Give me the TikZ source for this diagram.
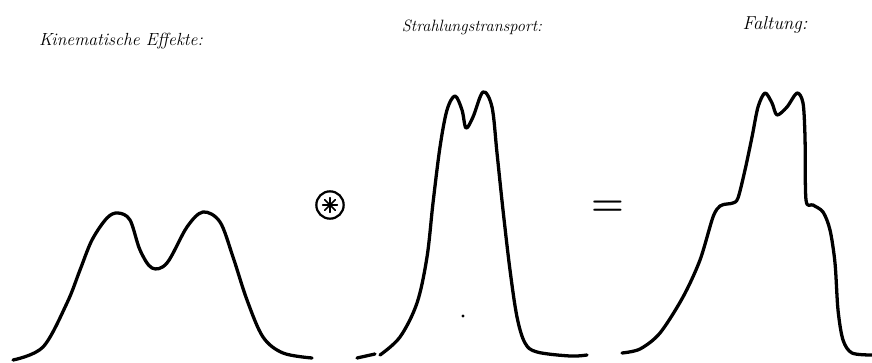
\documentclass[tikz,border=0pt]{standalone}
\usepackage{amsmath, amssymb}
\usepackage{tikz}
\usetikzlibrary{positioning, calc}

\begin{document}
\begin{tikzpicture}[x=0.03cm, y=-0.03cm,
                    every node/.style={font=\itshape},
                    profile/.style={line width=2.8pt, line join=round, line cap=round},
                    heading/.style={inner sep=0pt},
                    spoke/.style={line width=1.4pt, line cap=round}]
  \useasboundingbox (0,0) rectangle (872,362);

  % headings
  \node[heading, font=\itshape\fontsize{15}{17}\selectfont] (kinlabel)  at (121,41) {Kinematische Effekte:};
  \node[heading, font=\itshape\fontsize{14}{16}\selectfont] (radlabel)  at (472,27) {Strahlungstransport:};
  \node[heading, font=\itshape\fontsize{16}{18}\selectfont] (foldlabel) at (775,25) {Faltung:};

  % kinematische Effekte
  \draw[profile] plot[smooth, tension=0.55] coordinates {
    (13,360) (43,347) (67,303) (80,270) (92,240) (107,218) (118,213) (130,220)
    (140,250) (152,268) (167,263) (187,227) (203,212) (220,222) (233,257)
    (247,300) (263,337) (283,353) (312,358)};

  % Faltungsoperator und Gleichheitszeichen
  \node[draw, circle, line width=1.9pt, minimum size=0.82cm, inner sep=0pt] (conv) at (330,205) {};
  \foreach \a in {0,45,...,315}
    \draw[spoke] (conv.center) -- ++(\a:0.22cm);
  \node[font=\bfseries\fontsize{32}{32}\selectfont] (eq) at (608,208) {=};

  % Strahlungstransport
  \draw[profile] (357,358) -- (375,354);
  \draw[profile] plot[smooth, tension=0.55] coordinates {
    (380,355) (400,337) (417,303) (427,257) (433,203) (440,147) (447,110)
    (455,96) (462,110) (466,128) (473,117) (483,92) (492,107) (497,153)
    (503,210) (510,270) (517,317) (525,343) (537,352) (570,356) (587,355)};
  \fill (463,316) circle (1.3pt);

  % Faltung
  \draw[profile] plot[smooth, tension=0.5] coordinates {
    (622,353) (640,349) (660,333) (683,297) (700,260) (713,217) (720,206)
    (727,204) (733,203) (738,198) (745,170) (752,137) (758,107) (765,93)
    (772,103) (777,115) (787,107) (797,93) (803,103) (805,137) (806,200)
    (813,205) (823,212) (830,230) (835,263) (838,310) (843,340) (852,353)
    (872,355)};
\end{tikzpicture}
\end{document}
